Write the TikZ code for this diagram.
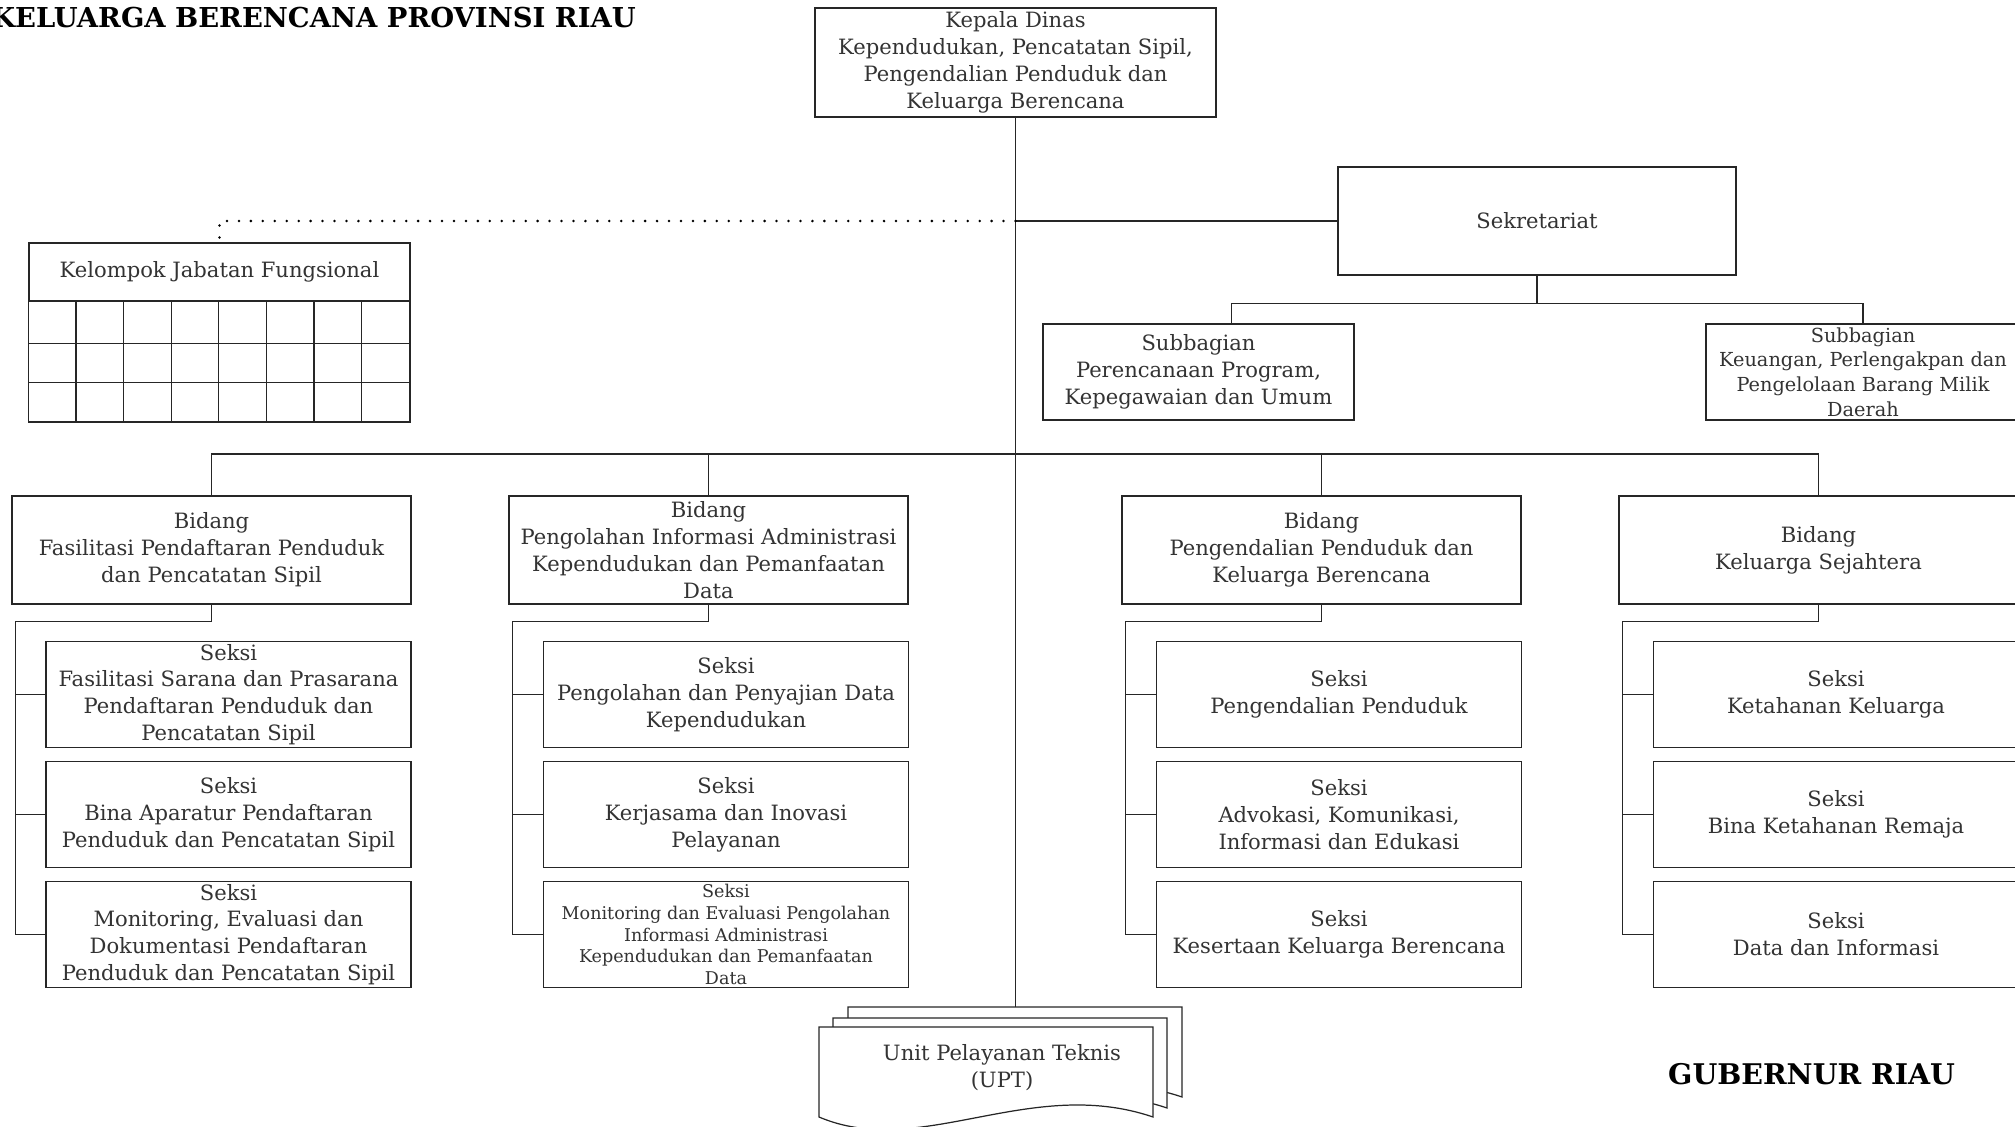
\documentclass[tikz,border=0pt]{standalone}
\usepackage{fontspec}
\setmainfont{DejaVu Serif}
\usetikzlibrary{calc}

\begin{document}
\begin{tikzpicture}[x=0.02cm, y=-0.02cm,
  box/.style={draw=black!85, line width=0.8pt, fill=white, align=center, text=black!80,
    inner sep=1pt, font=\fontsize{12}{15.3}\selectfont},
  bidang/.style={box, minimum width=7.98cm, minimum height=2.16cm},
  seksi/.style={box, minimum width=7.3cm, minimum height=2.12cm},
  link/.style={draw=black!85, line width=0.7pt},
  dotline/.style={line width=1.6pt, line cap=round, dash pattern=on 0pt off 6.8pt},
  sheet/.style={draw=black!85, line width=0.7pt, fill=white},
  headtext/.style={font=\fontsize{16.2}{19}\selectfont\bfseries}]
\useasboundingbox (0,0) rectangle (2015,1126);

\node[headtext, font=\fontsize{15.6}{19}\selectfont\bfseries, anchor=base east] (JDL) at (642,27) {KELUARGA BERENCANA PROVINSI RIAU};
\node[headtext, anchor=base west] (GUB) at (1662,1084) {GUBERNUR RIAU};

\node[box, minimum width=8.02cm, minimum height=2.18cm] (KD) at (1015.5,62.5) {Kepala Dinas\\Kependudukan, Pencatatan Sipil,\\Pengendalian Penduduk dan\\Keluarga Berencana};
\node[box, minimum width=7.96cm, minimum height=2.16cm] (SK) at (1537,221) {Sekretariat};
\node[box, minimum width=7.62cm, minimum height=1.16cm] (JF) at (219.5,272) {Kelompok Jabatan Fungsional};

\node[box, minimum width=6.22cm, minimum height=1.92cm] (SB1) at (1198.5,372) {Subbagian\\Perencanaan Program,\\Kepegawaian dan Umum};
\node[box, minimum width=6.28cm, minimum height=1.92cm, font=\fontsize{11}{14}\selectfont] (SB2) at (1863,372) {Subbagian\\Keuangan, Perlengakpan dan\\Pengelolaan Barang Milik\\Daerah};

\node[bidang] (B1) at (211.5,550) {Bidang\\Fasilitasi Pendaftaran Penduduk\\dan Pencatatan Sipil};
\node[bidang] (B2) at (708.5,550) {Bidang\\Pengolahan Informasi Administrasi\\Kependudukan dan Pemanfaatan\\Data};
\node[bidang] (B3) at (1321.5,550) {Bidang\\Pengendalian Penduduk dan\\Keluarga Berencana};
\node[bidang] (B4) at (1818.5,550) {Bidang\\Keluarga Sejahtera};

\node[seksi] (S11) at (228.5,694.5) {Seksi\\Fasilitasi Sarana dan Prasarana\\Pendaftaran Penduduk dan\\Pencatatan Sipil};
\node[seksi] (S12) at (228.5,814.5) {Seksi\\Bina Aparatur Pendaftaran\\Penduduk dan Pencatatan Sipil};
\node[seksi] (S13) at (228.5,934.5) {Seksi\\Monitoring, Evaluasi dan\\Dokumentasi Pendaftaran\\Penduduk dan Pencatatan Sipil};

\node[seksi] (S21) at (726,694.5) {Seksi\\Pengolahan dan Penyajian Data\\Kependudukan};
\node[seksi] (S22) at (726,814.5) {Seksi\\Kerjasama dan Inovasi\\Pelayanan};
\node[seksi, inner sep=0pt, font=\fontsize{10}{12.3}\selectfont] (S23) at (726,934.5) {Seksi\\Monitoring dan Evaluasi Pengolahan\\Informasi Administrasi\\Kependudukan dan Pemanfaatan\\Data};

\node[seksi] (S31) at (1339,694.5) {Seksi\\Pengendalian Penduduk};
\node[seksi] (S32) at (1339,814.5) {Seksi\\Advokasi, Komunikasi,\\Informasi dan Edukasi};
\node[seksi] (S33) at (1339,934.5) {Seksi\\Kesertaan Keluarga Berencana};

\node[seksi] (S41) at (1836,694.5) {Seksi\\Ketahanan Keluarga};
\node[seksi] (S42) at (1836,814.5) {Seksi\\Bina Ketahanan Remaja};
\node[seksi] (S43) at (1836,934.5) {Seksi\\Data dan Informasi};

% grid of the functional group
\draw[link, line width=0.8pt] (JF.south west) rectangle (410,422);
\foreach \gx in {1,...,7}
  \draw[link] ($(JF.south west)+(\gx*47.625,0)$) -- ++(0,121);
\draw[link] ($(JF.south west)+(0,42)$) -- ++(381,0);
\draw[link] ($(JF.south west)+(0,81)$) -- ++(381,0);

% UPT sheets
\foreach \dx/\dy in {29/-20, 14/-9, 0/0}
  \draw[sheet, shift={(\dx,\dy)}] (819,1027) -- (1153,1027) -- (1153,1117)
    .. controls (1030,1075) and (920,1160) .. (819,1117) -- cycle;
\node[box, draw=none, fill=none] (UPT) at (1002,1068) {Unit Pelayanan Teknis\\(UPT)};
\coordinate (UT) at (1015.5,1007);
\coordinate (BUS) at (1015.5,454);

\draw[link] (KD.south) -- (UT);
\draw[link] (KD.south |- SK.west) -- (SK.west);
\draw[dotline] (KD.south |- SK.west) -| (JF.north);

\draw[link] (SK.south) -- ++(0,28);
\draw[link] ($(SB1.north)+(33,0)$) |- ($(SK.south)+(0,28)$) -| (SB2.north);

\draw[link] (B1.north) |- (BUS) -| (B4.north);
\draw[link] (B2.north) |- (BUS) -| (B3.north);

\draw[link] (B1.south) -- ++(0,17) -| ($(S13.west)+(-30,0)$) -- (S13.west);
\draw[link] ($(S11.west)+(-30,0)$) -- (S11.west);
\draw[link] ($(S12.west)+(-30,0)$) -- (S12.west);

\draw[link] (B2.south) -- ++(0,17) -| ($(S23.west)+(-30,0)$) -- (S23.west);
\draw[link] ($(S21.west)+(-30,0)$) -- (S21.west);
\draw[link] ($(S22.west)+(-30,0)$) -- (S22.west);

\draw[link] (B3.south) -- ++(0,17) -| ($(S33.west)+(-30,0)$) -- (S33.west);
\draw[link] ($(S31.west)+(-30,0)$) -- (S31.west);
\draw[link] ($(S32.west)+(-30,0)$) -- (S32.west);

\draw[link] (B4.south) -- ++(0,17) -| ($(S43.west)+(-30,0)$) -- (S43.west);
\draw[link] ($(S41.west)+(-30,0)$) -- (S41.west);
\draw[link] ($(S42.west)+(-30,0)$) -- (S42.west);

\end{tikzpicture}
\end{document}
